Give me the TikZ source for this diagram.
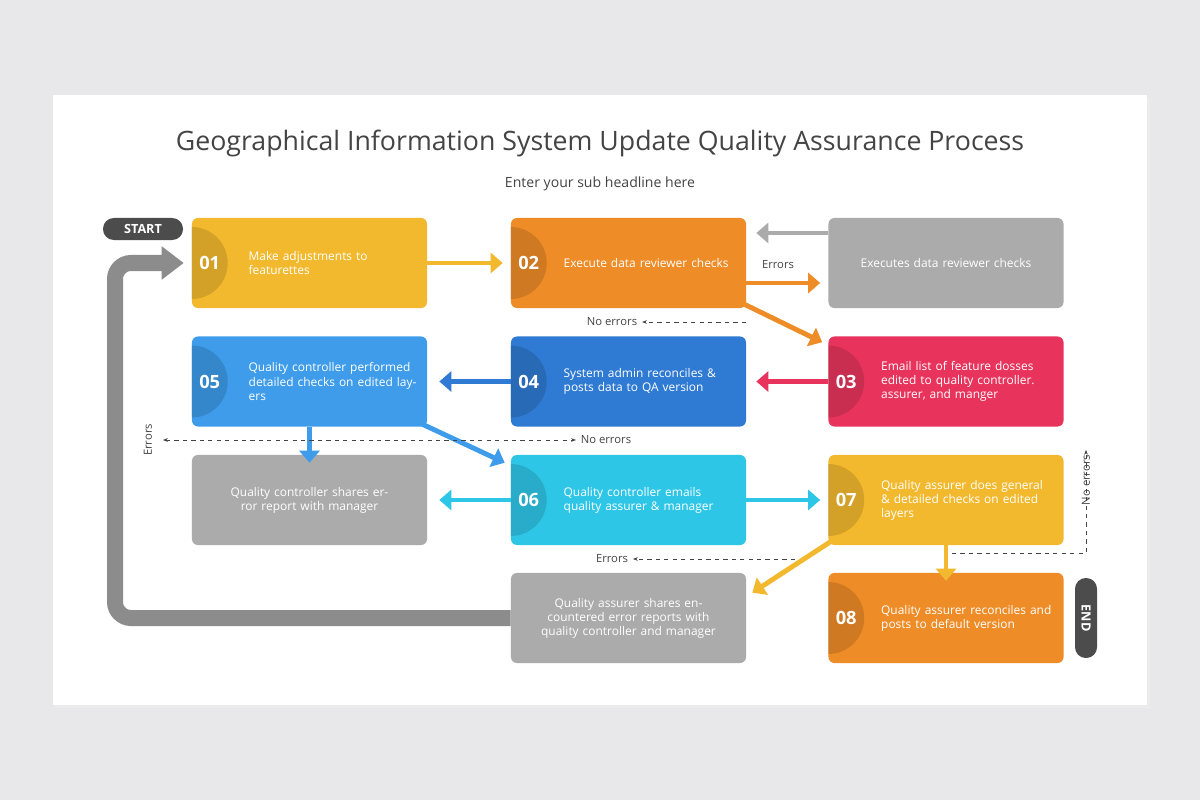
\documentclass[tikz,border=0pt]{standalone}
\usepackage{fontspec}
\setmainfont{Open Sans}
\usetikzlibrary{positioning, calc, arrows.meta}
\definecolor{bgc}{HTML}{E8E7EA}
\definecolor{yellowc}{HTML}{F3B92E}
\definecolor{orangec}{HTML}{EE8C28}
\definecolor{grayc}{HTML}{ABABAB}
\definecolor{bluec}{HTML}{3E9CEA}
\definecolor{dbluec}{HTML}{2F7AD2}
\definecolor{redc}{HTML}{E8345C}
\definecolor{cyanc}{HTML}{2EC6E7}
\definecolor{txtc}{HTML}{444444}

\begin{document}
\begin{tikzpicture}[x=0.025cm, y=-0.025cm,
    stepbox/.style={rectangle, 
      rounded corners=0.15cm, 
      minimum width=5.875cm, 
      minimum height=2.25cm, 
      draw=none},
    steptext/.style={anchor=west, 
      text=white, 
      align=left, 
      text width=4.3cm, 
      font=\fontsize{8.5}{10}\selectfont},
    graytext/.style={text=white, 
      align=center, 
      text width=5cm, 
      font=\fontsize{8.5}{10}\selectfont},
    stepnum/.style={text=white, font=\fontsize{13}{13}\selectfont\bfseries},
    flow/.style={line width=3.5pt, -{Triangle[length=3mm, width=5mm]}},
    note/.style={draw=txtc, dashed, thin, -{Stealth[length=1.2mm]}},
    notetext/.style={text=txtc, font=\fontsize{8}{9}\selectfont}]

  \fill[bgc] (0,0) rectangle (1200,800);
  \fill[black!8] (55,98) rectangle (1150,708);
  \fill[white] (53,95) rectangle (1147,705);

  \node[text=txtc, font=\fontsize{19}{22}\selectfont] (title) at (600,143) 
    {Geographical Information System Update Quality Assurance Process};
  \node[text=txtc, font=\fontsize{10}{12}\selectfont] (subtitle) at (600,184) 
    {Enter your sub headline here};

  % boxes
  \node[stepbox, fill=yellowc] (s01) at (309.5,263) {};
  \node[stepbox, fill=orangec] (s02) at (628.5,263) {};
  \node[stepbox, fill=grayc] (g1) at (946,263) {};
  \node[stepbox, fill=bluec] (s05) at (309.5,381.5) {};
  \node[stepbox, fill=dbluec] (s04) at (628.5,381.5) {};
  \node[stepbox, fill=redc] (s03) at (946,381.5) {};
  \node[stepbox, fill=grayc] (g2) at (309.5,500) {};
  \node[stepbox, fill=cyanc] (s06) at (628.5,500) {};
  \node[stepbox, fill=yellowc] (s07) at (946,500) {};
  \node[stepbox, fill=grayc] (g3) at (628.5,618) {};
  \node[stepbox, fill=orangec] (s08) at (946,618) {};

  % number half discs
  \foreach \s/\n in {s01/01, s02/02, s05/05, s04/04, s03/03, s06/06, s07/07, s08/08} {
    \fill[black, opacity=0.13] ([yshift=0.9cm]\s.west) arc (90:-90:0.9cm) -- cycle;
    \node[stepnum] at ([xshift=0.45cm]\s.west) {\n};
  }

  \node[steptext] (t01) at ([xshift=1.3cm]s01.west) {Make adjustments to\\featurettes};
  \node[steptext] (t02) at ([xshift=1.2cm]s02.west) {Execute data reviewer checks};
  \node[graytext] (tg1) at (g1) {Executes data reviewer checks};
  \node[steptext] (t05) at ([xshift=1.3cm]s05.west) {Quality controller performed detailed checks on edited layers};
  \node[steptext] (t04) at ([xshift=1.2cm]s04.west) {System admin reconciles \&\\posts data to QA version};
  \node[steptext] (t03) at ([xshift=1.2cm]s03.west) {Email list of feature dosses edited to quality controller. assurer, and manger};
  \node[graytext] (tg2) at (g2) {Quality controller shares error report with manager};
  \node[steptext] (t06) at ([xshift=1.2cm]s06.west) {Quality controller emails\\quality assurer \& manager};
  \node[steptext] (t07) at ([xshift=1.2cm]s07.west) {Quality assurer does general \& detailed checks on edited layers};
  \node[graytext] (tg3) at (g3) {Quality assurer shares encountered error reports with quality controller and manager};
  \node[steptext] (t08) at ([xshift=1.2cm]s08.west) {Quality assurer reconciles and posts to default version};

  % start and end
  \node[rectangle, rounded corners=0.27cm, fill=black!70, text=white, 
    minimum width=2cm, minimum height=0.55cm, 
    font=\fontsize{9}{9}\selectfont\bfseries] (start) at (143,229) {START};
  \node[rectangle, rounded corners=0.27cm, fill=black!70, text=white, 
    minimum width=2cm, minimum height=0.55cm, rotate=-90, 
    font=\fontsize{9}{9}\selectfont\bfseries] (end) at (1086,618) {END};

  % return arrow
  \draw[line width=0.4cm, black!45, rounded corners=0.4cm, 
    -{Triangle[length=0.55cm, width=0.8cm]}] 
    (g3.west) -| (115,263) -- ([xshift=-0.2cm]s01.west);

  % main arrows
  \draw[flow, yellowc] (s01.east) -- ([xshift=-0.2cm]s02.west);
  \draw[flow, orangec] ([yshift=-0.5cm]s02.east) -- ([xshift=-0.2cm,yshift=-0.5cm]g1.west);
  \draw[flow, grayc] ([yshift=0.75cm]g1.west) -- ([xshift=0.25cm,yshift=0.75cm]s02.east);
  \draw[flow, orangec] ([xshift=-0.15cm,yshift=0.15cm]s02.south east) -- ([xshift=-0.15cm,yshift=-0.15cm]s03.north west);
  \draw[flow, redc] (s03.west) -- ([xshift=0.25cm]s04.east);
  \draw[flow, dbluec] (s04.west) -- ([xshift=0.3cm]s05.east);
  \draw[flow, bluec] (s05.south) -- ([yshift=-0.2cm]g2.north);
  \draw[flow, bluec] ([xshift=-0.2cm,yshift=0.1cm]s05.south east) -- ([xshift=-0.15cm,yshift=-0.2cm]s06.north west);
  \draw[flow, cyanc] (s06.west) -- ([xshift=0.3cm]g2.east);
  \draw[flow, cyanc] (s06.east) -- ([xshift=-0.2cm]s07.west);
  \draw[flow, yellowc] (s07.south) -- ([yshift=-0.2cm]s08.north);
  \draw[flow, yellowc] ([xshift=0.15cm,yshift=0.15cm]s07.south west) -- ([xshift=0.15cm,yshift=-0.5cm]g3.north east);

  % notes
  \node[notetext] (errors1) at (778,265) {Errors};
  \node[notetext] (noerr1) at (612,322) {No errors};
  \draw[note] (746,322) -- (noerr1.east);
  \node[notetext, rotate=90] (errors2) at (148,440) {Errors};
  \node[notetext] (noerr2) at (606,440) {No errors};
  \draw[note, {Stealth[length=1.2mm]}-{Stealth[length=1.2mm]}] (163,440) -- (noerr2.west);
  \node[notetext] (errors3) at (612,559) {Errors};
  \draw[note] (795,559) -- (errors3.east);
  \node[notetext, rotate=90] (noerr3) at (1086,480) {No errors};
  \draw[note] (952,553) -| (noerr3.east);
\end{tikzpicture}
\end{document}
